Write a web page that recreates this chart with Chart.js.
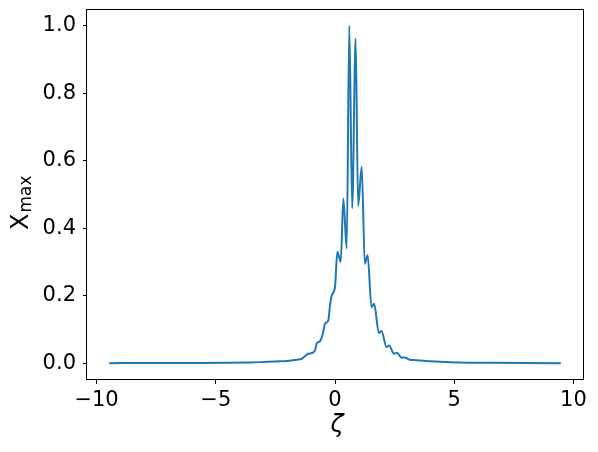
<!DOCTYPE html>
<html lang="en">
<head>
  <meta charset="UTF-8" />
  <title>X_max vs zeta</title>
  <script src="https://cdn.jsdelivr.net/npm/chart.js"></script>
  <style>
    body { margin: 0; padding: 0; background: #fff; }
    #wrap { width: 598px; height: 452px; }
  </style>
</head>
<body>
  <div id="wrap"><canvas id="chart" width="598" height="452"></canvas></div>

  <script>
    // values
    const zeta = [
      -9.47, -8, -6, -4.5, -3.6, -3.13, -2.5, -2.02, -1.6, -1.39, -1.25, -1.12, -0.97, -0.84,
      -0.76, -0.63, -0.51, -0.42, -0.28, -0.21, -0.14, 0.0, 0.10, 0.24, 0.35, 0.49, 0.60,
      0.72, 0.865, 0.97, 1.12, 1.25, 1.37, 1.53, 1.64, 1.84, 1.95, 2.16, 2.27, 2.47, 2.60,
      2.79, 2.93, 3.13, 3.30, 3.83, 4.39, 5.2, 6.5, 8, 9.47
    ];
    const xmax = [
      0.0, 0.0002, 0.0005, 0.001, 0.002, 0.003, 0.005, 0.006, 0.010, 0.013, 0.021, 0.028, 0.030, 0.038,
      0.059, 0.065, 0.087, 0.117, 0.127, 0.171, 0.200, 0.226, 0.330, 0.300, 0.488, 0.340, 1.0,
      0.459, 0.962, 0.466, 0.582, 0.295, 0.320, 0.166, 0.176, 0.089, 0.095, 0.048, 0.052, 0.028, 0.031,
      0.016, 0.017, 0.010, 0.009, 0.006, 0.004, 0.002, 0.001, 0.0003, 0.0
    ];
    const xTicks = [-10, -5, 0, 5, 10];
    const yTicks = [0.0, 0.2, 0.4, 0.6, 0.8, 1.0];

    const points = zeta.map((z, i) => ({ x: z, y: xmax[i] }));
    const FONT = 'DejaVu Sans';

    // white background, box frame and the two axis labels (subscript needs manual drawing)
    const decor = {
      id: 'decor',
      beforeDraw(chart) {
        const c = chart.ctx;
        c.save();
        c.fillStyle = '#fff';
        c.fillRect(0, 0, chart.width, chart.height);
        c.restore();
      },
      afterDraw(chart) {
        const c = chart.ctx, a = chart.chartArea;
        c.save();
        c.strokeStyle = '#000';
        c.lineWidth = 1;
        c.strokeRect(a.left - 0.5, a.top + 0.5, a.right - a.left + 1, a.bottom - a.top - 1);

        c.fillStyle = '#000';
        c.textBaseline = 'alphabetic';
        // x label
        c.font = 'italic 24px "' + FONT + '"';
        c.textAlign = 'center';
        c.fillText('ζ', 337, 432);
        // y label
        c.translate(28, 230);
        c.rotate(-Math.PI / 2);
        c.textAlign = 'left';
        c.font = '24px "' + FONT + '"';
        c.fillText('X', 0, 0);
        const w = c.measureText('X').width;
        c.font = '17px "' + FONT + '"';
        c.fillText('max', w + 1, 3);
        c.restore();
      }
    };

    new Chart(document.getElementById('chart'), {
      type: 'line',
      data: {
        datasets: [{
          data: points,
          borderColor: '#1f77b4',
          borderWidth: 2,
          pointRadius: 0,
          fill: false,
          cubicInterpolationMode: 'monotone'
        }]
      },
      options: {
        responsive: false,
        animation: false,
        layout: { padding: { top: 9, right: 15, left: 0, bottom: 0 } },
        plugins: { legend: { display: false }, tooltip: { enabled: false } },
        scales: {
          x: {
            type: 'linear',
            min: -10.4, max: 10.4,
            afterBuildTicks: s => { s.ticks = xTicks.map(v => ({ value: v })); },
            afterFit: s => { s.height = 72; s.paddingLeft = 0; s.paddingRight = 0; },
            grid: { drawOnChartArea: false, drawTicks: true, tickLength: 4, tickColor: '#000', color: '#000' },
            border: { display: false },
            ticks: {
              color: '#000', padding: 4, maxRotation: 0,
              font: { family: FONT, size: 21 },
              callback: v => String(v).replace('-', '\u2212')
            }
          },
          y: {
            min: -0.05, max: 1.05,
            afterBuildTicks: s => { s.ticks = yTicks.map(v => ({ value: v })); },
            afterFit: s => { s.width = 87; s.paddingTop = 0; s.paddingBottom = 0; },
            grid: { drawOnChartArea: false, drawTicks: true, tickLength: 4, tickColor: '#000', color: '#000' },
            border: { display: false },
            ticks: {
              color: '#000', padding: 7,
              font: { family: FONT, size: 21 },
              callback: v => v.toFixed(1)
            }
          }
        }
      },
      plugins: [decor]
    });
  </script>
</body>
</html>
